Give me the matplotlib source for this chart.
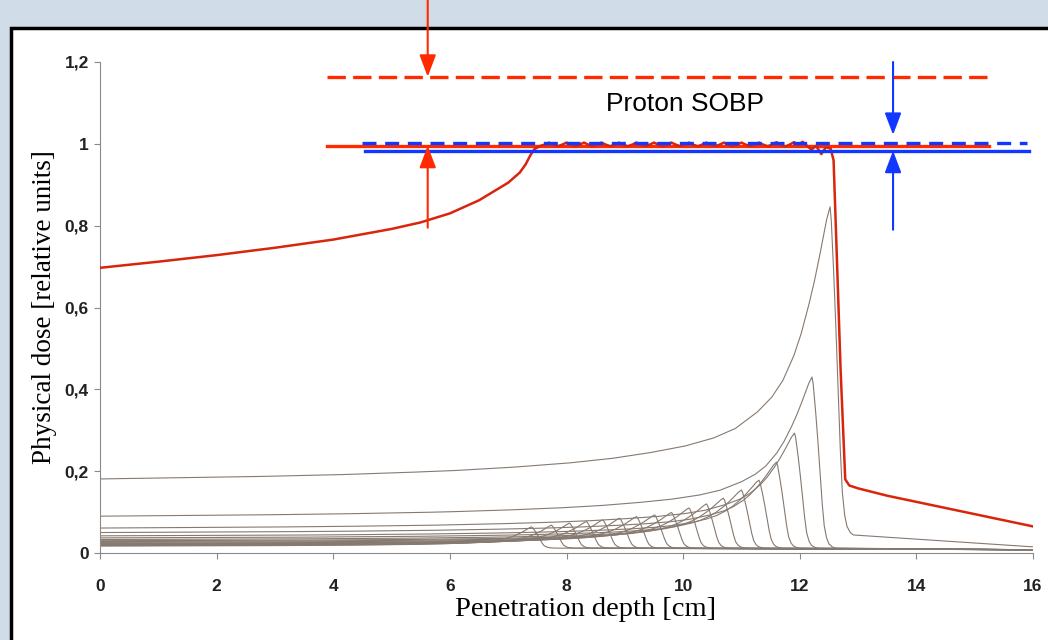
import numpy as np
import matplotlib
matplotlib.use('Agg')
import matplotlib.pyplot as plt
from matplotlib.patches import Rectangle

# pristine Bragg peaks
peak_depth = [7.40, 7.74, 8.05, 8.34, 8.62, 8.91, 9.20, 9.51, 9.80, 10.10,
              10.40, 10.69, 11.00, 11.30, 11.60, 11.91, 12.21, 12.52]
peak_dose = [0.064, 0.068, 0.073, 0.077, 0.081, 0.085, 0.089, 0.093, 0.099, 0.110,
             0.120, 0.134, 0.154, 0.178, 0.222, 0.293, 0.430, 0.846]
entrance_dose = [0.017, 0.018, 0.019, 0.020, 0.021, 0.022, 0.023, 0.024, 0.026, 0.028,
                 0.030, 0.033, 0.037, 0.042, 0.050, 0.061, 0.090, 0.181]
tail_start = [0.012] * 17 + [0.045]
tail_end = [0.008] * 17 + [0.015]

# shape of one Bragg curve
rise_u = [0, 0.2, 0.32, 0.4, 0.48, 0.56, 0.64, 0.70, 0.75, 0.80, 0.84, 0.87, 0.90,
          0.92, 0.935, 0.95, 0.96, 0.97, 0.978, 0.985, 0.99, 0.995, 1.0]
rise_g = [0, 0.008, 0.015, 0.022, 0.03, 0.042, 0.058, 0.075, 0.095, 0.12, 0.15, 0.185, 0.245,
          0.30, 0.36, 0.45, 0.53, 0.63, 0.72, 0.81, 0.88, 0.95, 1.0]
fall_d = [0, 0.02, 0.05, 0.09, 0.13, 0.17, 0.21, 0.25, 0.29, 0.34, 0.40]
fall_g = [1.0, 0.96, 0.85, 0.68, 0.48, 0.28, 0.13, 0.06, 0.025, 0.008, 0.0]

# spread-out Bragg peak (red)
sobp_depth = [0, 1, 2, 3, 4, 5, 5.5, 6, 6.5, 7.0, 7.2, 7.3, 7.38, 7.45,
              7.55, 7.625, 7.70, 7.775, 7.85, 7.925, 8.00, 8.075, 8.15, 8.225, 8.30, 8.375,
              8.45, 8.525, 8.60, 8.675, 8.75, 8.825, 8.90, 8.975, 9.05, 9.125, 9.20, 9.275,
              9.35, 9.425, 9.50, 9.575, 9.65, 9.725, 9.80, 9.875, 9.95, 10.025, 10.10, 10.175,
              10.25, 10.325, 10.40, 10.475, 10.55, 10.625, 10.70, 10.775, 10.85, 10.925, 11.00,
              11.075, 11.15, 11.225, 11.30, 11.375, 11.45, 11.525, 11.60, 11.675, 11.75, 11.825,
              11.90, 11.975, 12.05, 12.125, 12.20,
              12.28, 12.37, 12.45, 12.53, 12.58, 12.63, 12.70, 12.78, 12.85, 13.0,
              13.5, 14.0, 14.5, 15.0, 15.5, 16.0]
sobp_dose = [0.697, 0.712, 0.728, 0.746, 0.766, 0.792, 0.808, 0.830, 0.862, 0.905, 0.930, 0.950, 0.972, 0.987,
             0.995, 0.998, 1.003, 0.998, 0.994, 0.998, 1.003, 0.998, 0.994, 0.998, 1.003, 0.998,
             0.994, 0.998, 1.003, 0.998, 0.994, 0.998, 1.003, 0.998, 0.994, 0.998, 1.003, 0.998,
             0.994, 0.998, 1.003, 0.998, 0.994, 0.998, 1.003, 0.998, 0.994, 0.998, 1.003, 0.998,
             0.994, 0.998, 1.003, 0.998, 0.994, 0.998, 1.003, 0.998, 0.994, 0.998, 1.003,
             0.998, 0.994, 0.998, 1.003, 0.998, 0.994, 0.998, 1.004, 0.998, 0.993, 0.998,
             1.004, 0.998, 1.005, 0.995, 0.986,
             0.995, 0.975, 0.992, 0.988, 0.96, 0.75, 0.45, 0.18, 0.165, 0.158,
             0.140, 0.125, 0.110, 0.095, 0.080, 0.065]

x_ticks = [0, 2, 4, 6, 8, 10, 12, 14, 16]
y_ticks = [0, 0.2, 0.4, 0.6, 0.8, 1.0, 1.2]
y_tick_labels = ['0', '0,2', '0,4', '0,6', '0,8', '1', '1,2']

RED = '#ff2a00'
BLUE = '#1238ff'

fig = plt.figure(figsize=(10.48, 6.4), dpi=100)
fig.patch.set_facecolor('#d0dce7')
panel = Rectangle((11 / 1048, -0.1), 1.2, 0.1 + 612 / 640, transform=fig.transFigure,
                  facecolor='white', edgecolor='black', linewidth=2.5, zorder=-10)
fig.patches.append(panel)

ax = fig.add_axes([100 / 1048, 1 - 553 / 640, 933 / 1048, 491 / 640])
ax.set_facecolor('none')
ax.set_zorder(1)

x = np.linspace(0, 16, 3201)
for pd_, h, e, t0, t1 in zip(peak_depth, peak_dose, entrance_dose, tail_start, tail_end):
    tail = np.interp(x, [pd_ + 0.3, 16], [t0, t1])
    rise = e + (h - e) * np.interp(x / pd_, rise_u, rise_g)
    fall = tail + (h - tail) * np.interp(x - pd_, fall_d, fall_g)
    y = np.where(x <= pd_, rise, fall)
    ax.plot(x, y, color='#86796f', lw=0.8, zorder=2)

ax.plot(sobp_depth, sobp_dose, color='#d8250c', lw=1.8, zorder=4)

# reference lines
ax.plot([3.9, 15.28], [1.164, 1.164], color=RED, lw=2.4, dashes=(5.5, 2.2), zorder=5)
ax.plot([3.9, 15.25], [0.995, 0.995], color=RED, lw=2.4, zorder=3)
ax.plot([4.5, 15.9], [1.003, 1.003], color=BLUE, lw=2.4, dashes=(4.2, 2.6), zorder=5)
ax.plot([4.55, 15.93], [0.983, 0.983], color=BLUE, lw=2.4, zorder=5)

aprops = dict(arrowstyle='-|>,head_width=0.36,head_length=0.95', mutation_scale=14,
              lw=1.5, shrinkA=0, shrinkB=0)
ax.annotate('', xy=(5.62, 1.164), xytext=(5.62, 1.0), textcoords=('data', 'figure fraction'),
            arrowprops=dict(color=RED, **aprops), annotation_clip=False, zorder=6)
ax.annotate('', xy=(5.62, 0.995), xytext=(5.62, 0.795),
            arrowprops=dict(color=RED, **aprops), zorder=6)
ax.annotate('', xy=(13.6, 1.022), xytext=(13.6, 1.2),
            arrowprops=dict(color=BLUE, **aprops), annotation_clip=False, zorder=6)
ax.annotate('', xy=(13.6, 0.983), xytext=(13.6, 0.79),
            arrowprops=dict(color=BLUE, **aprops), zorder=6)

ax.text(10.04, 1.098, 'Proton SOBP', fontsize=19, family='Liberation Sans',
        ha='center', va='center', zorder=6)

ax.set_xlim(0, 16)
ax.set_ylim(0, 1.2)
ax.set_xticks(x_ticks)
ax.set_yticks(y_ticks)
ax.set_yticklabels(y_tick_labels)
for s in ['top', 'right']:
    ax.spines[s].set_visible(False)
for s in ['left', 'bottom']:
    ax.spines[s].set_color('#8a8a8a')
    ax.spines[s].set_linewidth(0.8)
ax.tick_params(direction='out', length=4, color='#8a8a8a', width=0.8)
ax.tick_params(axis='x', pad=15)
ax.tick_params(axis='y', pad=4)
for lab in ax.get_xticklabels() + ax.get_yticklabels():
    lab.set_family('Liberation Sans')
    lab.set_fontweight('bold')
    lab.set_fontsize(12.5)
    lab.set_color('#222222')

ax.set_xlabel('Penetration depth [cm]', family='Liberation Serif', fontsize=20.5)
ax.xaxis.set_label_coords(0.52, -0.09)
ax.set_ylabel('Physical dose [relative units]', family='Liberation Serif', fontsize=19.5)
ax.yaxis.set_label_coords(-0.046, 0.5)

fig.savefig('out.png', dpi=100, facecolor=fig.get_facecolor())
